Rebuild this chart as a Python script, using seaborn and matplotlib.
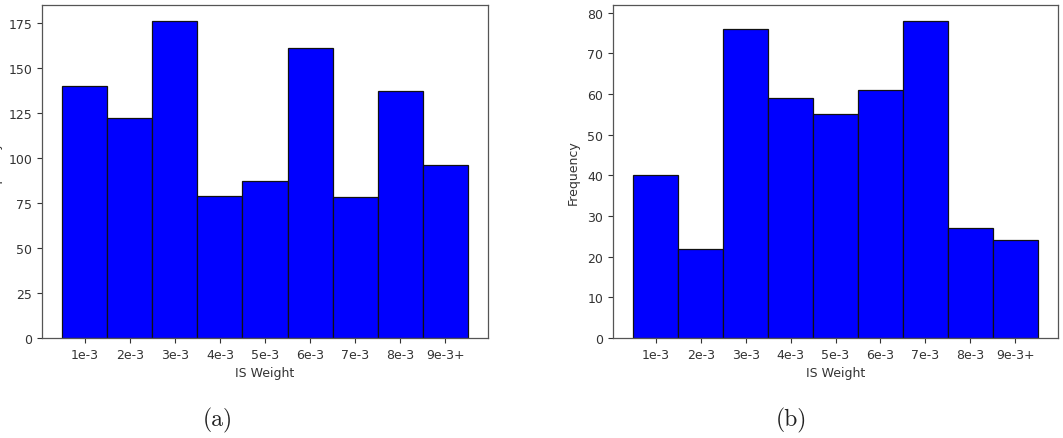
import matplotlib
matplotlib.use('Agg')
import matplotlib.pyplot as plt
import seaborn as sns
import pandas as pd

# Bin labels and counts for the two histograms
bins = ['1e-3', '2e-3', '3e-3', '4e-3', '5e-3', '6e-3', '7e-3', '8e-3', '9e-3+']
freq_a = [140, 122, 176, 79, 87, 161, 78, 137, 96]
freq_b = [40, 22, 76, 59, 55, 61, 78, 27, 24]
captions = ['(a)', '(b)']

plt.rcParams['font.family'] = ['DejaVu Sans']
plt.rcParams['font.size'] = 9

fig = plt.figure(figsize=(10.63, 4.39), dpi=100)
ax_a = fig.add_axes([0.0395, 0.2278, 0.4196, 0.7585])
ax_b = fig.add_axes([0.5767, 0.2278, 0.4186, 0.7585])

for ax, freq in [(ax_a, freq_a), (ax_b, freq_b)]:
    df = pd.DataFrame({'IS Weight': bins, 'Frequency': freq})
    sns.barplot(data=df, x='IS Weight', y='Frequency', ax=ax, color='#0000ff',
                saturation=1, width=1, edgecolor='#111111', linewidth=0.9)
    ax.set_xlim(-0.95, len(bins) - 0.05)
    ax.set_ylim(0, max(freq) * 1.05)
    ax.tick_params(colors='#333333', labelcolor='#333333', labelsize=9)
    ax.set_xlabel('IS Weight', color='#333333', fontsize=9)
    ax.set_ylabel('Frequency', color='#333333', fontsize=9)
    for sp in ax.spines.values():
        sp.set_color('#555555')
        sp.set_linewidth(0.9)

ax_a.set_yticks(range(0, 176, 25))
ax_b.set_yticks(range(0, 81, 10))
# the left panel's label sits mostly past the figure edge, as in the original
ax_a.yaxis.set_label_coords(-0.09, 0.5)
ax_b.yaxis.set_label_coords(-0.075, 0.5)

fig.text(218 / 1063, 1 - 420 / 439, captions[0], family='cmr10', fontsize=17,
         ha='center', va='center', color='#222222')
fig.text(791 / 1063, 1 - 420 / 439, captions[1], family='cmr10', fontsize=17,
         ha='center', va='center', color='#222222')

fig.savefig('out.png', dpi=100)
